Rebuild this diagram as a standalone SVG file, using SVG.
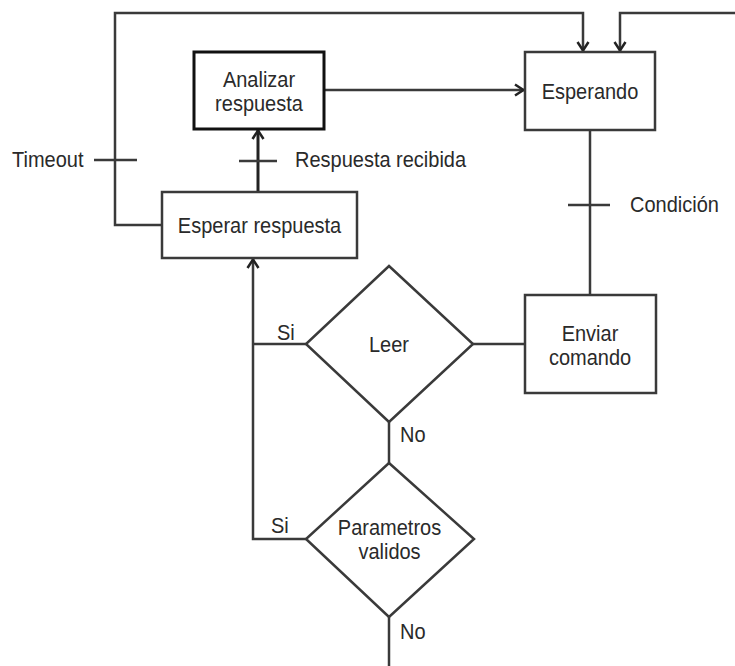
<svg xmlns="http://www.w3.org/2000/svg" width="735" height="666" viewBox="0 0 735 666">
  <style>
    .box { fill: #fff; stroke: #3a3a3a; stroke-width: 2.5; }
    .box-strong { fill: #fff; stroke: #111; stroke-width: 3; }
    .line { fill: none; stroke: #3a3a3a; stroke-width: 2.5; }
    .line-strong { fill: none; stroke: #222; stroke-width: 3; }
    .tick { fill: none; stroke: #3a3a3a; stroke-width: 2.5; }
    text { font-family: "Liberation Sans", Arial, sans-serif; font-size: 20px; fill: #2a2a2a; }
    .c { text-anchor: middle; }
  </style>
  <defs>
    <marker id="arrow" markerUnits="userSpaceOnUse" viewBox="0 0 12 14" refX="11" refY="7" markerWidth="12" markerHeight="14" orient="auto">
      <path d="M2,1.5 L10.5,7 L2,12.5" fill="none" stroke="#222" stroke-width="2.5"/>
    </marker>
  </defs>

  <!-- connectors -->
  <g id="connectors">
    <!-- timeout loop: Esperar respuesta back to Esperando -->
    <polyline class="line" points="162,225 115,225 115,13 583,13 583,51" marker-end="url(#arrow)"/>
    <!-- external entry into Esperando -->
    <polyline class="line" points="736,13 620,13 620,51" marker-end="url(#arrow)"/>
    <!-- Analizar respuesta to Esperando -->
    <line class="line" x1="324" y1="90" x2="524" y2="90" marker-end="url(#arrow)"/>
    <!-- Esperar respuesta to Analizar respuesta -->
    <line class="line-strong" x1="258" y1="192" x2="258" y2="130" marker-end="url(#arrow)"/>
    <!-- Esperando to Enviar comando -->
    <line class="line" x1="590" y1="130" x2="590" y2="295"/>
    <!-- Enviar comando to Leer -->
    <line class="line" x1="525" y1="344" x2="473" y2="344"/>
    <!-- Leer (No) to Parametros validos -->
    <line class="line" x1="389" y1="422" x2="389" y2="463"/>
    <!-- Si branches back up to Esperar respuesta -->
    <line class="line" x1="306" y1="344" x2="253" y2="344"/>
    <polyline class="line" points="306,539 253,539 253,259" marker-end="url(#arrow)"/>
    <!-- Parametros validos (No) exit -->
    <line class="line" x1="389" y1="617" x2="389" y2="667"/>

    <!-- transition ticks -->
    <line class="tick" x1="94" y1="160" x2="137" y2="160"/>
    <line class="tick" x1="239" y1="161" x2="277" y2="161"/>
    <line class="tick" x1="568" y1="205" x2="610" y2="205"/>

    <!-- labels -->
    <text transform="translate(12 167) scale(1 1.12)">Timeout</text>
    <text transform="translate(295 167) scale(1 1.12)">Respuesta recibida</text>
    <text transform="translate(630 212) scale(1 1.12)">Condición</text>
    <text transform="translate(277 340) scale(1 1.12)">Si</text>
    <text transform="translate(271 533) scale(1 1.12)">Si</text>
    <text transform="translate(400 442) scale(1 1.12)">No</text>
    <text transform="translate(400 639) scale(1 1.12)">No</text>
  </g>

  <g id="analizar">
    <rect class="box-strong" x="194" y="52" width="130" height="77"/>
    <text class="c" transform="translate(259 87) scale(1 1.12)">Analizar</text>
    <text class="c" transform="translate(259 111) scale(1 1.12)">respuesta</text>
  </g>

  <g id="esperando">
    <rect class="box" x="525" y="52" width="130" height="78"/>
    <text class="c" transform="translate(590 99) scale(1 1.12)">Esperando</text>
  </g>

  <g id="esperar">
    <rect class="box" x="162" y="192" width="195" height="66"/>
    <text class="c" transform="translate(259.5 233) scale(1 1.12)">Esperar respuesta</text>
  </g>

  <g id="enviar">
    <rect class="box" x="525" y="295" width="131" height="98"/>
    <text class="c" transform="translate(590 341) scale(1 1.12)">Enviar</text>
    <text class="c" transform="translate(590 365) scale(1 1.12)">comando</text>
  </g>

  <g id="leer">
    <polygon class="box" points="389,266 473,344 389,422 306,344"/>
    <text class="c" transform="translate(389 352) scale(1 1.12)">Leer</text>
  </g>

  <g id="parametros">
    <polygon class="box" points="389,463 474,539 389,617 306,539"/>
    <text class="c" transform="translate(389.5 535) scale(1 1.12)">Parametros</text>
    <text class="c" transform="translate(389.5 559) scale(1 1.12)">validos</text>
  </g>
</svg>
